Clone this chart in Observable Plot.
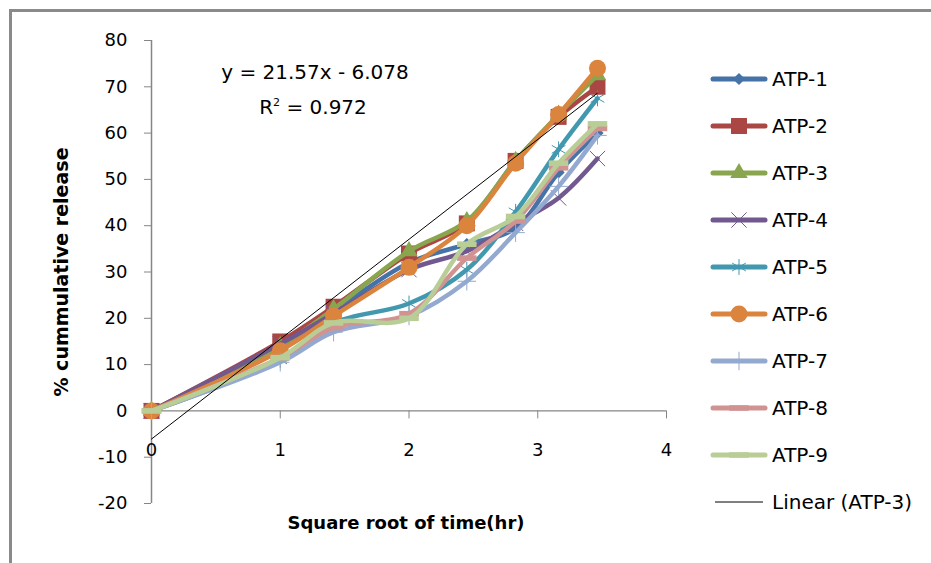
<!DOCTYPE html>
<html>
<head>
<meta charset="utf-8">
<script src="https://cdn.jsdelivr.net/npm/d3@7"></script>
<script src="https://cdn.jsdelivr.net/npm/@observablehq/plot@0.6"></script>
<style>
  html, body { margin: 0; padding: 0; background: #fff; overflow: hidden; }
  #wrap { position: relative; width: 931px; height: 563px; overflow: hidden; font-family: "DejaVu Sans", sans-serif; color: #000; }
  #border { position: absolute; left: 9px; top: 9px; width: 1200px; height: 800px; border-left: 3px solid #8a8a8a; border-top: 3px solid #8a8a8a; box-sizing: border-box; }
  #chart { position: absolute; left: 0; top: 0; }
  .eq { position: absolute; width: 300px; text-align: center; font-size: 20px; line-height: 24px; white-space: nowrap; }
  .xtitle { position: absolute; left: 206px; width: 400px; top: 511px; text-align: center; font-weight: bold; font-size: 18px; line-height: 24px; white-space: nowrap; }
  .ytitle { position: absolute; left: -139px; top: 260px; width: 400px; text-align: center; font-weight: bold; font-size: 19px; line-height: 24px; transform: rotate(-90deg); white-space: nowrap; }
  .leg { position: absolute; left: 710px; height: 24px; display: flex; align-items: center; font-size: 20px; white-space: nowrap; }
  .leg svg { display: block; margin-right: 4px; }
</style>
</head>
<body>
<div id="wrap">
  <div id="border"></div>
  <div id="chart"></div>
</div>
<script>
// ---------- data ----------
const times = [0, 1, 1.414, 2, 2.449, 2.828, 3.162, 3.464]; // square root of time (hr)
const seriesNames = ["ATP-1", "ATP-2", "ATP-3", "ATP-4", "ATP-5", "ATP-6", "ATP-7", "ATP-8", "ATP-9"];
const atp1 = [0, 14, 21.5, 32, 36, 39.5, 51.5, 60];
const atp2 = [0, 15, 22.5, 34, 40.5, 54, 63.5, 70];
const atp3 = [0, 14, 22, 34.5, 41, 54, 64, 72.5];
const atp4 = [0, 14.5, 21, 30.5, 34.5, 40.5, 46, 54.5];
const atp5 = [0, 11, 19, 23.2, 30.5, 43, 56.5, 67.5];
const atp6 = [0, 13, 20.5, 31, 40, 53.5, 64, 74];
const atp7 = [0, 10.5, 17, 20.5, 28, 38.5, 48.5, 59.5];
const atp8 = [0, 11.5, 18, 21, 33, 41, 52.5, 61];
const atp9 = [0, 11.5, 19, 20, 36, 42, 53.5, 62];
const trendLabel = "Linear (ATP-3)";
const trendSlope = 21.57;
const trendIntercept = -6.078;
const trendR2 = 0.972;
const xTicks = [0, 1, 2, 3, 4];
const yTicks = [-20, -10, 0, 10, 20, 30, 40, 50, 60, 70, 80];
const xTitle = "Square root of time(hr)";
const yTitle = "% cummulative release";

// ---------- styling ----------
const seriesValues = [atp1, atp2, atp3, atp4, atp5, atp6, atp7, atp8, atp9];
const colors = ["#4572A7", "#AA4643", "#89A54E", "#71588F", "#4198AF", "#DB843D", "#93A9CF", "#D19392", "#B9CD96"];
const dash = {
  draw(ctx, size) {
    const s = Math.sqrt(size), w = s * 0.95, h = s * 0.27;
    ctx.moveTo(-w, -h); ctx.lineTo(w, -h); ctx.lineTo(w, h); ctx.lineTo(-w, h); ctx.closePath();
  }
};
const markers = [
  {symbol: "diamond2", d3type: d3.symbolDiamond2, r: 5.5, filled: true},
  {symbol: "square", d3type: d3.symbolSquare, r: 9, filled: true},
  {symbol: "triangle", d3type: d3.symbolTriangle, r: 6.5, filled: true},
  {symbol: "times", d3type: d3.symbolTimes, r: 7, filled: false},
  {symbol: "asterisk", d3type: d3.symbolAsterisk, r: 7.5, filled: false},
  {symbol: "circle", d3type: d3.symbolCircle, r: 8.5, filled: true},
  {symbol: "plus", d3type: d3.symbolPlus, r: 6, filled: false},
  {symbol: dash, d3type: dash, r: 5.8, filled: true},
  {symbol: dash, d3type: dash, r: 5.8, filled: true}
];
const gray = "#868686";

const W = 931, H = 563;
const mLeft = 151, mRight = 265, mTop = 40, mBottom = 60;
const yDomain = [yTicks[0], yTicks[yTicks.length - 1]];
const pxPerY = (H - mTop - mBottom) / (yDomain[1] - yDomain[0]);
const axisShift = -(0 - yDomain[0]) * pxPerY; // move x axis up to y = 0
const plainFormat = d => String(d);

const seriesRows = seriesNames.map((name, i) => times.map((t, j) => ({name, t, v: seriesValues[i][j]})));
const trendRows = [times[0], times[times.length - 1]].map(t => ({t, v: trendSlope * t + trendIntercept}));

const marks = [
  Plot.ruleY([0], {stroke: gray, strokeWidth: 1.2}),
  Plot.ruleX([0], {y1: yDomain[0], y2: yDomain[1], stroke: gray, strokeWidth: 1.5}),
  Plot.axisY(yTicks, {tickSize: 7, tickPadding: 17, stroke: gray, fontSize: 18, tickFormat: plainFormat}),
  Plot.axisX(xTicks, {tickSize: 8, tickPadding: 24, stroke: gray, fontSize: 18, dy: axisShift, tickFormat: plainFormat})
];
seriesRows.forEach((rows, i) => {
  const m = markers[i];
  marks.push(Plot.line(rows, {x: "t", y: "v", stroke: colors[i], strokeWidth: 4.5, curve: "catmull-rom", strokeLinejoin: "round", strokeLinecap: "round"}));
  marks.push(Plot.dot(rows, m.filled
    ? {x: "t", y: "v", symbol: m.symbol, r: m.r, fill: colors[i], stroke: "none"}
    : {x: "t", y: "v", symbol: m.symbol, r: m.r, fill: "none", stroke: colors[i], strokeWidth: 1}));
});
marks.push(Plot.line(trendRows, {x: "t", y: "v", stroke: "#000", strokeWidth: 1}));

const chart = Plot.plot({
  width: W,
  height: H,
  marginLeft: mLeft,
  marginRight: mRight,
  marginTop: mTop,
  marginBottom: mBottom,
  style: {fontFamily: "DejaVu Sans, sans-serif", fontSize: "18px", color: "#000", background: "transparent", overflow: "visible"},
  x: {domain: [xTicks[0], xTicks[xTicks.length - 1]], label: null},
  y: {domain: yDomain, label: null},
  marks
});
document.getElementById("chart").appendChild(chart);

// ---------- annotations ----------
const wrap = d3.select("#wrap");
wrap.append("div").attr("class", "eq").style("left", "165px").style("top", "60px")
  .text(`y = ${trendSlope}x - ${Math.abs(trendIntercept)}`);
wrap.append("div").attr("class", "eq").style("left", "163px").style("top", "91px")
  .html(`R<sup style="font-size:11px">2</sup> = ${trendR2}`);
wrap.append("div").attr("class", "xtitle").text(xTitle);
wrap.append("div").attr("class", "ytitle").text(yTitle);

// ---------- legend ----------
const legTop0 = 79, legStep = 47;
seriesNames.forEach((name, i) => {
  const m = markers[i];
  const row = wrap.append("div").attr("class", "leg").style("top", (legTop0 + legStep * i - 12) + "px");
  const svg = row.append("svg").attr("width", 58).attr("height", 24);
  svg.append("line").attr("x1", 3).attr("x2", 55).attr("y1", 12).attr("y2", 12)
    .attr("stroke", colors[i]).attr("stroke-width", 5).attr("stroke-linecap", "round");
  const path = svg.append("path").attr("transform", "translate(29,12)")
    .attr("d", d3.symbol(m.d3type, m.r * m.r * Math.PI)());
  if (m.filled) path.attr("fill", colors[i]);
  else path.attr("fill", "none").attr("stroke", colors[i]).attr("stroke-width", 1);
  row.append("span").text(name);
});
{
  const row = wrap.append("div").attr("class", "leg").style("top", (legTop0 + legStep * seriesNames.length - 12) + "px");
  const svg = row.append("svg").attr("width", 58).attr("height", 24);
  svg.append("line").attr("x1", 5).attr("x2", 53).attr("y1", 12).attr("y2", 12).attr("stroke", "#000").attr("stroke-width", 1);
  row.append("span").text(trendLabel);
}
</script>
</body>
</html>
